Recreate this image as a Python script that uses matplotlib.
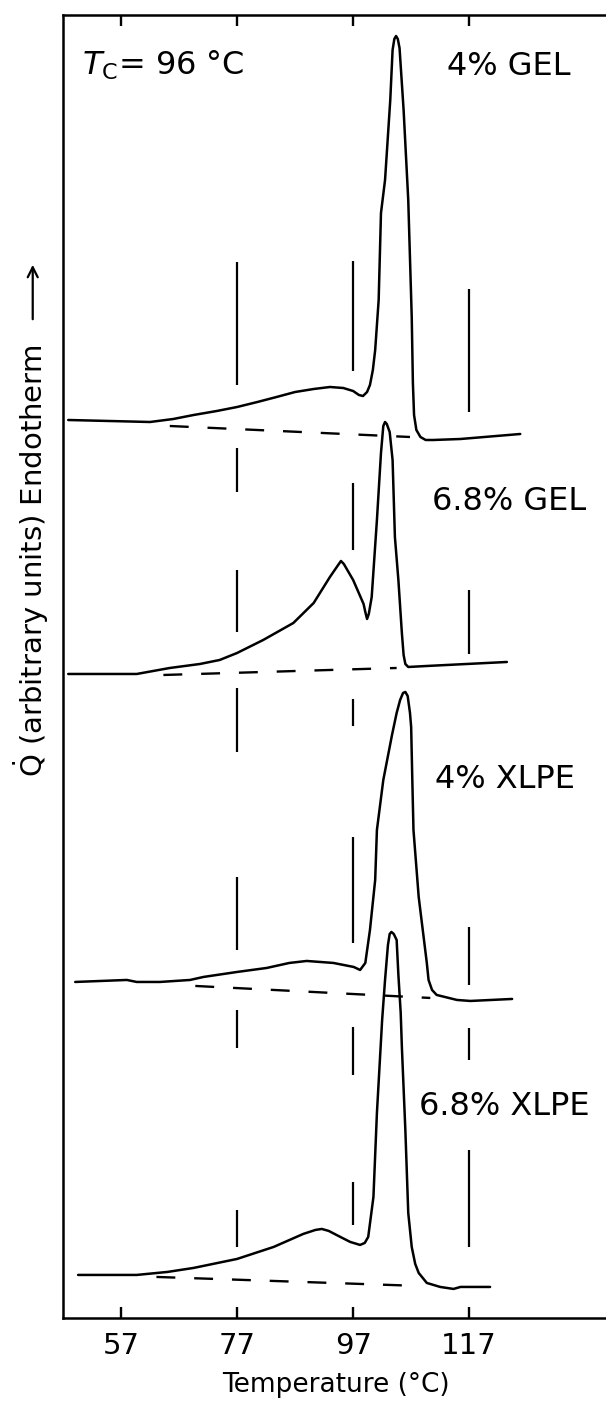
import matplotlib
matplotlib.use("Agg")
import matplotlib.pyplot as plt
import numpy as np

plt.rcParams['font.family'] = ['DejaVu Sans']
plt.rcParams['mathtext.fontset'] = 'dejavusans'

# DSC traces (temperature in degC, heat flow in arbitrary units, offset per trace)
t_gel4 = [47.9, 55.0, 62.0, 66.0, 69.5, 73.5, 77.0, 80.5, 83.8, 87.0, 90.2, 93.0, 95.3,
          97.0, 98.0, 98.7, 99.4, 99.9, 100.4, 100.8, 101.4, 101.8, 102.5, 103.4, 103.8,
          104.1, 104.4, 104.7, 105.0, 105.7, 106.5, 107.1, 107.3, 107.5, 107.9, 108.6,
          109.5, 110.8, 115.5, 125.8]
q_gel4 = [90.0, 89.9, 89.8, 90.1, 90.5, 90.9, 91.3, 91.8, 92.3, 92.8, 93.1, 93.3, 93.2,
          92.9, 92.5, 92.4, 92.8, 93.5, 95.0, 97.0, 102.0, 110.7, 114.0, 122.0, 127.0,
          128.1, 128.4, 128.1, 127.2, 121.0, 112.0, 100.3, 93.7, 90.5, 89.0, 88.3,
          88.0, 88.0, 88.1, 88.6]

t_gel68 = [47.9, 54.0, 59.7, 65.4, 70.6, 74.0, 77.0, 81.5, 86.7, 90.2, 93.0, 94.3, 94.9,
           95.4, 95.9, 97.0, 97.9, 98.8, 99.1, 99.4, 99.7, 100.2, 101.1, 101.8, 102.2,
           102.5, 102.8, 103.3, 103.8, 104.2, 104.8, 105.4, 105.7, 106.0, 106.5, 109.7,
           123.5]
q_gel68 = [64.6, 64.6, 64.6, 65.2, 65.6, 66.0, 66.7, 68.0, 69.7, 71.7, 74.3, 75.4, 75.9,
           75.6, 75.1, 74.0, 72.8, 71.6, 70.8, 70.1, 70.6, 72.3, 80.0, 86.7, 89.4,
           89.8, 89.6, 88.8, 86.0, 78.3, 74.0, 68.7, 66.5, 65.6, 65.3, 65.4,
           65.8]

t_xlpe4 = [49.1, 58.0, 59.7, 63.7, 68.9, 71.2, 77.0, 82.1, 86.0, 89.0, 93.6, 97.1, 98.2,
           99.1, 99.9, 100.8, 101.1, 102.2, 103.7, 104.5, 105.1, 105.6, 106.0, 106.4,
           106.8, 107.0, 107.2, 107.4, 108.3, 109.7, 110.0, 110.6, 111.4, 114.9, 117.2,
           124.4]
q_xlpe4 = [33.8, 34.0, 33.8, 33.8, 34.0, 34.3, 34.8, 35.2, 35.7, 35.9, 35.7, 35.3, 35.0,
           35.7, 39.0, 44.0, 49.0, 54.0, 58.5, 60.7, 62.0, 62.7, 62.8, 62.4,
           60.7, 59.3, 54.0, 49.0, 42.3, 35.7, 34.0, 33.0, 32.5, 32.0, 31.9,
           32.1]

t_xlpe68 = [49.6, 59.7, 65.0, 69.5, 77.0, 83.3, 88.4, 90.5, 91.6, 92.8, 94.8, 96.5, 98.2,
            99.0, 99.6, 100.5, 101.1, 102.0, 102.5, 103.0, 103.3, 103.6, 104.0, 104.5,
            104.8, 105.2, 105.4, 106.0, 106.5, 107.1, 107.7, 108.3, 109.7, 112.0, 114.3,
            115.5, 120.6]
q_xlpe68 = [4.5, 4.5, 4.8, 5.2, 6.1, 7.3, 8.6, 9.0, 9.1, 8.9, 8.3, 7.8, 7.5,
            7.7, 8.3, 12.3, 20.7, 30.0, 34.0, 37.5, 38.6, 38.8, 38.6, 38.0,
            34.5, 30.7, 27.3, 19.0, 10.7, 7.3, 5.6, 4.7, 3.7, 3.3, 3.1,
            3.3, 3.3]

# dashed baselines (start, end)
base_t = [(65.4, 106.8), (64.3, 104.5), (69.8, 110.3), (63.1, 108.3)]
base_q = [(89.4, 88.3), (64.5, 65.2), (33.4, 32.2), (4.3, 3.4)]

labels = ["4% GEL", "6.8% GEL", "4% XLPE", "6.8% XLPE"]
label_t = [113.2, 110.6, 111.1, 108.4]
label_q = [125.4, 81.8, 54.0, 21.3]

# vertical guide marks at 77, 97, 117 degC (segments low/high)
guide_t = [77, 97, 117]
guide_77 = [(93.5, 105.8), (82.8, 87.2), (68.8, 75.0), (56.8, 63.2), (37.0, 44.3), (27.2, 31.0), (7.3, 11.0)]
guide_97 = [(94.9, 105.9), (77.0, 83.7), (59.4, 62.1), (37.7, 48.3), (24.5, 29.3), (9.5, 13.8)]
guide_117 = [(90.8, 103.1), (66.6, 73.0), (33.5, 39.3), (26.0, 29.2), (7.3, 17.0)]

xticks = [57, 77, 97, 117]

fig = plt.figure(figsize=(6.06, 14.04), dpi=100)
ax = fig.add_axes([0.104, 0.0613, 0.90, 0.9280])

for t, q in [(t_gel4, q_gel4), (t_gel68, q_gel68), (t_xlpe4, q_xlpe4), (t_xlpe68, q_xlpe68)]:
    ax.plot(t, q, color='black', lw=1.8, solid_joinstyle='round', solid_capstyle='round')

for bt, bq in zip(base_t, base_q):
    ax.plot(bt, bq, color='black', lw=1.7, ls=(0, (8, 8)))

for gt, segs in zip(guide_t, [guide_77, guide_97, guide_117]):
    lo = [s[0] for s in segs]
    hi = [s[1] for s in segs]
    ax.vlines([gt] * len(segs), lo, hi, color='black', lw=1.6)

for lab, lt, lq in zip(labels, label_t, label_q):
    ax.text(lt, lq, lab, fontsize=23, ha='left', va='center')

ax.text(50.3, 125.5, r"$T_{\mathrm{C}}$= 96 °C", fontsize=23, ha='left', va='center')

ax.set_xlim(47.0, 141.0)
ax.set_ylim(0.2, 130.5)
ax.set_xticks(xticks)
ax.set_yticks([])
ax.tick_params(axis='x', direction='in', top=True, length=8, width=1.7,
               labelsize=21, pad=10)
ax.spines['right'].set_visible(False)
for s in ['left', 'top', 'bottom']:
    ax.spines[s].set_linewidth(1.8)
ax.set_xlabel("Temperature (°C)", fontsize=19, labelpad=9)

fig.text(0.051, 0.601, r"$\dot{\mathrm{Q}}$ (arbitrary units) Endotherm",
         rotation=90, fontsize=21, ha='center', va='center')
ax.annotate("", xy=(0.054, 1 - 262 / 1404), xytext=(0.054, 1 - 322 / 1404),
            xycoords='figure fraction', textcoords='figure fraction',
            arrowprops=dict(arrowstyle='->', lw=1.6, color='black', mutation_scale=18))

fig.savefig("out.png", dpi=100)
